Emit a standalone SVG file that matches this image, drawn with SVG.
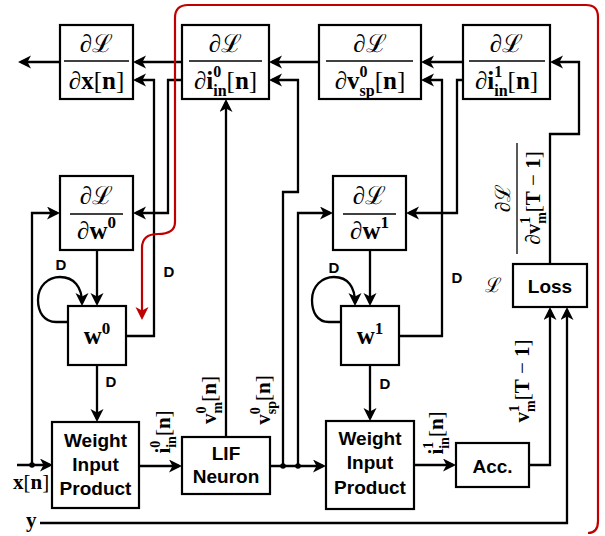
<svg xmlns="http://www.w3.org/2000/svg" width="605" height="536" viewBox="0 0 605 536">
<defs>
<style>
.box{fill:#fff;stroke:#000;stroke-width:2.2}
.w{fill:none;stroke:#000;stroke-width:2.2}
.wa{fill:none;stroke:#000;stroke-width:2.3;marker-end:url(#ah)}
.m{font-family:"Liberation Serif","DejaVu Serif",serif;font-size:25px;text-anchor:middle}
.r{font-family:"Liberation Serif","DejaVu Serif",serif;font-size:21px;text-anchor:middle}
.b{font-weight:bold}
.t{font-family:"Liberation Sans",Arial,sans-serif;font-weight:bold;font-size:19px;text-anchor:middle}
.d{font-family:"Liberation Sans",Arial,sans-serif;font-weight:bold;font-size:15px;text-anchor:middle}
.bar{stroke:#000;stroke-width:1.3}
</style>
<marker id="ah" markerWidth="14" markerHeight="14" refX="10" refY="6.5" orient="auto" markerUnits="userSpaceOnUse"><path d="M0,0 L13,6.5 L0,13 L3.5,6.5 Z" fill="#000"/></marker>
<marker id="ahr" markerWidth="14" markerHeight="14" refX="10" refY="6.5" orient="auto" markerUnits="userSpaceOnUse"><path d="M0,0 L13,6.5 L0,13 L3.5,6.5 Z" fill="#c00000"/></marker>
</defs>
<rect width="605" height="536" fill="#fff"/>

<g id="connectors">
<path class="wa" d="M60,62 H21"/>
<path class="wa" d="M182,62 H136"/>
<path class="wa" d="M126,336 H154 V80 H136"/>
<path class="wa" d="M182,80 H168 V213 H136"/>
<path class="wa" d="M17,465 H50"/>
<path class="wa" d="M32,465 V213 H57"/>
<path class="wa" d="M97,250 V303"/>
<path class="wa" d="M68,322 H56 C44,322 38,312 38,300 C38,286 48,277 60,277 C74,277 82,287 82,303"/>
<path class="wa" d="M97,365 V419"/>
<path class="wa" d="M139,466 H179"/>
<path class="wa" d="M226,437 V102"/>
<path class="wa" d="M270,466 H323"/>
<path class="wa" d="M283,466 V192 H298 V80 H272"/>
<path class="wa" d="M298,466 V213 H330"/>
<path class="wa" d="M319,62 H272"/>
<path class="wa" d="M463,62 H424"/>
<path class="wa" d="M399,336 H442 V80 H424"/>
<path class="wa" d="M463,80 H457 V213 H409"/>
<path class="wa" d="M370,250 V303"/>
<path class="wa" d="M341,322 H329 C317,322 312,312 312,300 C312,286 322,277 334,277 C348,277 355,287 355,303"/>
<path class="wa" d="M370,365 V418"/>
<path class="wa" d="M414,465 H453"/>
<path class="wa" d="M529,465 H550 V310"/>
<path class="wa" d="M40,523 H567 V310"/>
<path class="wa" d="M550,264 V134 H579 V62 H553"/>
<circle cx="32" cy="465" r="2.8"/>
<circle cx="283" cy="466" r="2.8"/>
<circle cx="298" cy="466" r="2.8"/>
<path d="M588,533 Q598,533 598,521 L598,17 Q598,5 586,5 L188,5 Q175,5 175,18 L175,222 C175,232 166,234 158,234 C148,234 142,238 142,248 L142,317" fill="none" stroke="#c00000" stroke-width="2.2" marker-end="url(#ahr)"/>
<text class="d" x="61" y="270">D</text>
<text class="d" x="169" y="277">D</text>
<text class="d" x="111" y="387">D</text>
<text class="d" x="334" y="273">D</text>
<text class="d" x="457" y="283">D</text>
<text class="d" x="385" y="389">D</text>
<text class="r" transform="translate(170,432) rotate(-90)"><tspan class="b">i</tspan><tspan class="b" font-size="14" dy="-10">0</tspan><tspan class="b" font-size="14" dx="-7" dy="16">in</tspan><tspan dy="-6">[</tspan><tspan class="b">n</tspan>]</text>
<text class="r" transform="translate(216,400) rotate(-90)"><tspan class="b">v</tspan><tspan class="b" font-size="14" dy="-10">0</tspan><tspan class="b" font-size="14" dx="-7" dy="16">m</tspan><tspan dy="-6">[</tspan><tspan class="b">n</tspan>]</text>
<text class="r" transform="translate(270,400) rotate(-90)"><tspan class="b">v</tspan><tspan class="b" font-size="14" dy="-10">0</tspan><tspan class="b" font-size="14" dx="-7" dy="16">sp</tspan><tspan dy="-6">[</tspan><tspan class="b">n</tspan>]</text>
<text class="r" transform="translate(443,433) rotate(-90)"><tspan class="b">i</tspan><tspan class="b" font-size="14" dy="-10">1</tspan><tspan class="b" font-size="14" dx="-7" dy="16">in</tspan><tspan dy="-6">[</tspan><tspan class="b">n</tspan>]</text>
<text class="r" transform="translate(529,381) rotate(-90)"><tspan class="b">v</tspan><tspan class="b" font-size="14" dy="-10">1</tspan><tspan class="b" font-size="14" dx="-7" dy="16">m</tspan><tspan dy="-6">[</tspan><tspan class="b">T</tspan> − <tspan class="b">1</tspan>]</text>
<g transform="translate(517,198) rotate(-90)">
<text class="r" x="0" y="-7">∂ℒ</text>
<line class="bar" x1="-56" y1="0" x2="55" y2="0"/>
<text class="r" x="0" y="23">∂<tspan class="b">v</tspan><tspan class="b" font-size="14" dy="-10">1</tspan><tspan class="b" font-size="14" dx="-7" dy="16">m</tspan><tspan dy="-6">[</tspan><tspan class="b">T</tspan> − <tspan class="b">1</tspan>]</text>
</g>
<text x="493" y="292" font-family="'Liberation Serif','DejaVu Serif',serif" font-size="20" text-anchor="middle">ℒ</text>
<text x="13" y="489" font-family="'Liberation Serif','DejaVu Serif',serif" font-size="21"><tspan class="b">x</tspan>[<tspan class="b">n</tspan>]</text>
<text x="26" y="527" font-family="'Liberation Serif','DejaVu Serif',serif" font-size="21" font-weight="bold">y</text>
</g>

<g id="dLdx">
<rect class="box" x="60" y="25" width="73" height="74"/>
<text class="m" x="96.5" y="52">∂ℒ</text>
<line class="bar" x1="64" y1="61" x2="129" y2="61"/>
<text class="m" x="96.5" y="89">∂<tspan class="b">x</tspan>[<tspan class="b">n</tspan>]</text>
</g>
<g id="dLdi0">
<rect class="box" x="182" y="25" width="87" height="74"/>
<text class="m" x="225.5" y="52">∂ℒ</text>
<line class="bar" x1="189" y1="61" x2="262" y2="61"/>
<text class="m" x="225.5" y="89">∂<tspan class="b">i</tspan><tspan class="b" font-size="16" dy="-12">0</tspan><tspan class="b" font-size="16" dx="-8" dy="19">in</tspan><tspan dy="-7">[</tspan><tspan class="b">n</tspan>]</text>
</g>
<g id="dLdv0sp">
<rect class="box" x="319" y="25" width="102" height="74"/>
<text class="m" x="370" y="52">∂ℒ</text>
<line class="bar" x1="326" y1="61" x2="413" y2="61"/>
<text class="m" x="370" y="89">∂<tspan class="b">v</tspan><tspan class="b" font-size="16" dy="-12">0</tspan><tspan class="b" font-size="16" dx="-8" dy="19">sp</tspan><tspan dy="-7">[</tspan><tspan class="b">n</tspan>]</text>
</g>
<g id="dLdi1">
<rect class="box" x="463" y="25" width="87" height="74"/>
<text class="m" x="506.5" y="52">∂ℒ</text>
<line class="bar" x1="469" y1="61" x2="545" y2="61"/>
<text class="m" x="506.5" y="89">∂<tspan class="b">i</tspan><tspan class="b" font-size="16" dy="-12">1</tspan><tspan class="b" font-size="16" dx="-8" dy="19">in</tspan><tspan dy="-7">[</tspan><tspan class="b">n</tspan>]</text>
</g>
<g id="dLdw0">
<rect class="box" x="60" y="176" width="73" height="74"/>
<text class="m" x="96.5" y="204">∂ℒ</text>
<line class="bar" x1="70" y1="214" x2="123" y2="214"/>
<text class="m" x="96.5" y="239">∂<tspan class="b">w</tspan><tspan class="b" font-size="17" dy="-11">0</tspan></text>
</g>
<g id="dLdw1">
<rect class="box" x="333" y="176" width="73" height="74"/>
<text class="m" x="369.5" y="204">∂ℒ</text>
<line class="bar" x1="343" y1="214" x2="396" y2="214"/>
<text class="m" x="369.5" y="239">∂<tspan class="b">w</tspan><tspan class="b" font-size="17" dy="-11">1</tspan></text>
</g>
<g id="w0">
<rect class="box" x="68" y="306" width="58" height="59"/>
<text class="m b" x="97" y="344" font-size="24">w<tspan font-size="17" dy="-10">0</tspan></text>
</g>
<g id="w1">
<rect class="box" x="341" y="306" width="58" height="59"/>
<text class="m b" x="370" y="344" font-size="24">w<tspan font-size="17" dy="-10">1</tspan></text>
</g>
<g id="wip0">
<rect class="box" x="52" y="422" width="87" height="86"/>
<text class="t" x="95.5" y="447">Weight</text>
<text class="t" x="95.5" y="471">Input</text>
<text class="t" x="95.5" y="495">Product</text>
</g>
<g id="lif">
<rect class="box" x="182" y="437" width="88" height="57"/>
<text class="t" x="226" y="460">LIF</text>
<text class="t" x="226" y="483">Neuron</text>
</g>
<g id="wip1">
<rect class="box" x="326" y="421" width="88" height="88"/>
<text class="t" x="370" y="445">Weight</text>
<text class="t" x="370" y="469">Input</text>
<text class="t" x="370" y="494">Product</text>
</g>
<g id="acc">
<rect class="box" x="456" y="443" width="73" height="44"/>
<text class="t" x="492.5" y="473">Acc.</text>
</g>
<g id="loss">
<rect class="box" x="513" y="264" width="74" height="43"/>
<text class="t" x="550" y="293">Loss</text>
</g>
</svg>
